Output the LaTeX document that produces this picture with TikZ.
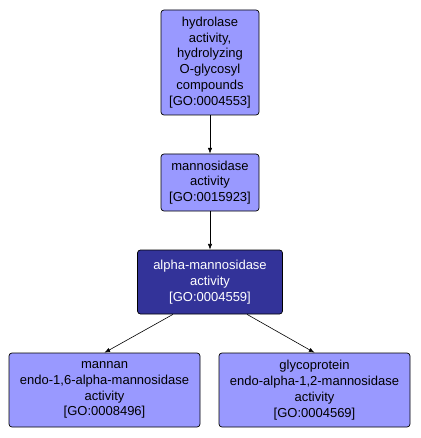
\documentclass[tikz,border=0pt]{standalone}
\usepackage{fontspec}
\setmainfont{Liberation Sans}
\usepackage{tikz}
\usetikzlibrary{arrows.meta,positioning}
\definecolor{GoFill}{HTML}{9999FF}
\definecolor{GoDark}{HTML}{333399}

\begin{document}
\begin{tikzpicture}[x=1pt, y=-1pt, >=Latex,
  term/.style={rounded corners=3pt, draw=black, line width=0.7pt, fill=GoFill, align=center, inner sep=0pt, font=\fontsize{13}{15.8}\selectfont},
  focus/.style={term, fill=GoDark, text=white},
  isa/.style={->, line width=0.6pt, black}]
\useasboundingbox (0,0) rectangle (420,438);

\node[term, minimum width=98pt, minimum height=105pt] (hydro) at (210,62.5) {hydrolase\\activity,\\hydrolyzing\\O-glycosyl\\compounds\\{[GO:0004553]}};
\node[term, minimum width=98pt, minimum height=57pt] (manno) at (210,182.5) {mannosidase\\activity\\{[GO:0015923]}};
\node[focus, minimum width=145pt, minimum height=64pt] (alpha) at (210,282) {alpha-mannosidase\\activity\\{[GO:0004559]}};
\node[term, minimum width=191pt, minimum height=74pt] (mannan) at (104.5,390) {mannan\\endo-1,6-alpha-mannosidase\\activity\\{[GO:0008496]}};
\node[term, minimum width=191pt, minimum height=74pt] (glyco) at (314.5,390) {glycoprotein\\endo-alpha-1,2-mannosidase\\activity\\{[GO:0004569]}};

\foreach \a/\b in {hydro/manno,manno/alpha}{\draw[isa] (\a.south) -- (\b.north);}
\draw[isa] ([xshift=-37pt]alpha.south) -- (mannan.north);
\draw[isa] ([xshift=37pt]alpha.south) -- (glyco.north);

\end{tikzpicture}
\end{document}
